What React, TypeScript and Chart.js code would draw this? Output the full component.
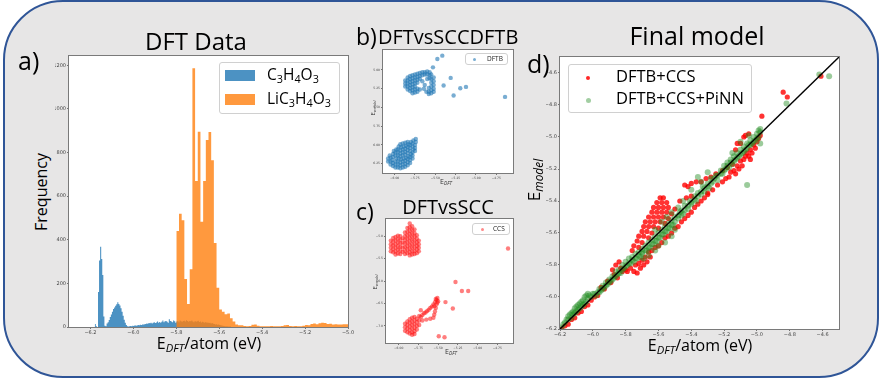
import React, { useEffect, useRef } from "react";
import { Chart, registerables } from "chart.js";
Chart.register(...registerables);

// ---------- DATA ----------
// Panel a: histograms (bin counts)
const blueStart = -6.18;
const blueWidth = 0.005;
const blueCounts = [
  0, 14, 4, 0, 160, 305, 368, 312, 238, 48, 6, 4, 16, 22, 32, 46, 57, 70, 82, 90, 97, 104, 114, 106, 99, 86, 70, 52, 33, 19, 9, 4, 2,
  3, 5, 4, 6, 5, 8, 6, 7, 9, 8, 10, 9, 12, 11, 13,
  14, 16, 15, 18, 17, 20, 16, 19, 22, 18, 21, 25, 20, 23, 19, 24, 30, 22, 26, 28, 24, 20, 36, 28, 25, 22, 30, 26, 20,
  25, 28, 22, 30, 26, 24, 27, 29, 25, 31, 27, 24, 28, 26, 30, 25, 22, 27, 24, 26, 29, 23, 25, 21, 24, 22, 20, 23, 19, 21,
  18, 20, 16, 18, 15, 14, 12, 13, 10, 11, 9, 8, 7, 6, 5, 4, 4, 3, 2, 2,
];
const orangeStart = -5.8;
const orangeWidth = 0.0125;
const orangeCounts = [
  440, 440, 520, 490, 220, 105, 265, 1187, 670, 896, 483, 670, 858, 894, 765, 385, 180, 80, 70, 58, 62, 40, 25, 12, 8,
  8, 5, 4, 5, 10, 12, 6, 4, 3, 4, 3, 5, 4, 3, 4, 5, 8, 9, 5, 4, 5, 3, 4, 6, 9, 8, 14, 16, 13, 17, 20, 18, 14, 15, 12, 13, 11, 12, 13,
];
const aXTicks = [-6.2, -6.0, -5.8, -5.6, -5.4, -5.2, -5.0];
const aYTicks = [0, 200, 400, 600, 800, 1000, 1200];

// Panel b: DFT vs SCC-DFTB
const bLow: number[][] = [
  [-6.08, -6.22], [-6.08, -6.18],
  [-6.05, -6.26], [-6.05, -6.22], [-6.05, -6.17], [-6.06, -6.14],
  [-6.02, -6.28], [-6.02, -6.24], [-6.03, -6.2], [-6.02, -6.16], [-6.02, -6.12], [-6.01, -6.08],
  [-5.99, -6.3], [-5.99, -6.26], [-5.99, -6.22], [-5.98, -6.18], [-5.99, -6.14], [-5.99, -6.1], [-5.98, -6.06],
  [-5.96, -6.3], [-5.96, -6.26], [-5.96, -6.22], [-5.95, -6.18], [-5.96, -6.14], [-5.96, -6.1], [-5.96, -6.06], [-5.95, -6.02],
  [-5.93, -6.31], [-5.93, -6.27], [-5.93, -6.23], [-5.92, -6.19], [-5.93, -6.15], [-5.93, -6.11], [-5.93, -6.07], [-5.92, -6.03], [-5.93, -5.99],
  [-5.9, -6.3], [-5.9, -6.26], [-5.9, -6.22], [-5.89, -6.18], [-5.9, -6.14], [-5.9, -6.1], [-5.9, -6.06], [-5.89, -6.02], [-5.9, -5.98],
  [-5.87, -6.29], [-5.87, -6.25], [-5.87, -6.21], [-5.86, -6.17], [-5.87, -6.13], [-5.87, -6.09], [-5.87, -6.05], [-5.86, -6.01], [-5.87, -5.97],
  [-5.84, -6.27], [-5.84, -6.23], [-5.84, -6.19], [-5.83, -6.15], [-5.84, -6.11], [-5.84, -6.07], [-5.84, -6.03], [-5.83, -5.99], [-5.84, -5.96],
  [-5.81, -6.24], [-5.81, -6.2], [-5.81, -6.16], [-5.8, -6.12], [-5.81, -6.08], [-5.81, -6.04], [-5.81, -6.0], [-5.8, -5.96],
  [-5.78, -6.18], [-5.78, -6.14], [-5.78, -6.1], [-5.77, -6.06], [-5.78, -6.02], [-5.78, -5.98], [-5.77, -5.94],
  [-5.75, -6.08], [-5.75, -6.04], [-5.75, -6.0], [-5.74, -5.96], [-5.74, -5.92],
];
const bHigh: number[][] = [
  [-5.87, -5.14], [-5.87, -5.18], [-5.87, -5.22],
  [-5.84, -5.1], [-5.84, -5.14], [-5.84, -5.18], [-5.84, -5.22], [-5.84, -5.26],
  [-5.81, -5.08], [-5.81, -5.12], [-5.81, -5.16], [-5.81, -5.2], [-5.81, -5.24], [-5.81, -5.28],
  [-5.78, -5.07], [-5.78, -5.11], [-5.78, -5.15], [-5.78, -5.19], [-5.78, -5.23], [-5.78, -5.27], [-5.78, -5.31],
  [-5.75, -5.06], [-5.75, -5.1], [-5.75, -5.14], [-5.75, -5.18], [-5.75, -5.22], [-5.75, -5.26], [-5.75, -5.3],
  [-5.72, -5.05], [-5.72, -5.09], [-5.72, -5.13], [-5.72, -5.17], [-5.72, -5.25], [-5.72, -5.29],
  [-5.69, -5.04], [-5.69, -5.08], [-5.69, -5.12], [-5.69, -5.26],
  [-5.66, -5.03], [-5.66, -5.07], [-5.63, -5.03], [-5.63, -5.06], [-5.6, -5.02], [-5.6, -5.06], [-5.57, -5.03], [-5.57, -5.07], [-5.57, -5.11],
  [-5.55, -5.06], [-5.55, -5.12], [-5.55, -5.17], [-5.55, -5.22], [-5.55, -5.27], [-5.55, -5.31],
  [-5.52, -5.1], [-5.52, -5.15], [-5.52, -5.2], [-5.52, -5.25], [-5.52, -5.29],
  [-5.58, -5.24], [-5.58, -5.29], [-5.58, -5.32],
  [-5.66, -5.15], [-5.63, -5.2], [-5.6, -5.12], [-5.64, -5.25], [-5.61, -5.29],
];
const bOutliers: number[][] = [
  [-5.475, -4.854], [-5.414, -4.809], [-5.529, -4.965], [-5.311, -5.106], [-5.398, -5.208],
  [-5.275, -5.341], [-5.193, -5.244], [-5.123, -5.226], [-4.643, -5.359],
];
const bXTicks = [-6.0, -5.75, -5.5, -5.25, -5.0, -4.75];
const bYTicks = [-6.25, -6.0, -5.75, -5.5, -5.25, -5.0];

// Panel c: DFT vs SCC (CCS)
const cHigh: number[][] = [
  [-6.1, -5.1], [-6.1, -5.18], [-6.1, -5.26], [-6.1, -5.34],
  [-6.07, -5.04], [-6.07, -5.12], [-6.07, -5.2], [-6.07, -5.28], [-6.07, -5.36],
  [-6.04, -5.02], [-6.04, -5.1], [-6.04, -5.18], [-6.04, -5.26], [-6.04, -5.34], [-6.04, -5.41],
  [-6.01, -4.99], [-6.01, -5.07], [-6.01, -5.15], [-6.01, -5.23], [-6.01, -5.31], [-6.01, -5.39],
  [-5.98, -5.0], [-5.98, -5.08], [-5.98, -5.16], [-5.98, -5.24], [-5.98, -5.32], [-5.98, -5.4],
  [-5.95, -5.05], [-5.95, -5.15], [-5.95, -5.25], [-5.95, -5.35],
  [-5.92, -4.92], [-5.92, -5.0], [-5.92, -5.08], [-5.92, -5.16], [-5.92, -5.24], [-5.92, -5.32], [-5.92, -5.4],
  [-5.89, -4.82], [-5.89, -4.9], [-5.89, -4.98], [-5.89, -5.06], [-5.89, -5.14], [-5.89, -5.22], [-5.89, -5.3], [-5.89, -5.38],
  [-5.86, -4.72], [-5.86, -4.8], [-5.86, -4.88], [-5.86, -4.96], [-5.86, -5.04], [-5.86, -5.12], [-5.86, -5.2], [-5.86, -5.28], [-5.86, -5.36], [-5.86, -5.43],
  [-5.83, -4.78], [-5.83, -4.86], [-5.83, -4.94], [-5.83, -5.02], [-5.83, -5.1], [-5.83, -5.18], [-5.83, -5.26], [-5.83, -5.34], [-5.83, -5.41],
  [-5.8, -4.85], [-5.8, -4.93], [-5.8, -5.01], [-5.8, -5.09], [-5.8, -5.17], [-5.8, -5.25], [-5.8, -5.33], [-5.8, -5.4],
  [-5.77, -4.98], [-5.77, -5.06], [-5.77, -5.14], [-5.77, -5.22], [-5.77, -5.3], [-5.77, -5.38],
  [-5.745, -5.1], [-5.745, -5.18], [-5.745, -5.26], [-5.745, -5.34],
];
const cLow: number[][] = [
  [-5.92, -6.95], [-5.92, -7.03], [-5.92, -7.11],
  [-5.89, -6.9], [-5.89, -6.98], [-5.89, -7.06], [-5.89, -7.14],
  [-5.86, -6.85], [-5.86, -6.93], [-5.86, -7.01], [-5.86, -7.09], [-5.86, -7.17],
  [-5.83, -6.82], [-5.83, -6.9], [-5.83, -6.98], [-5.83, -7.06], [-5.83, -7.14], [-5.83, -7.2],
  [-5.8, -6.8], [-5.8, -6.88], [-5.8, -6.96], [-5.8, -7.04], [-5.8, -7.12], [-5.8, -7.18],
  [-5.77, -6.84], [-5.77, -6.92], [-5.77, -7.0], [-5.77, -7.08],
  [-5.74, -6.78], [-5.74, -6.88], [-5.74, -6.98],
  [-5.72, -6.8], [-5.7, -6.76], [-5.68, -6.72], [-5.66, -6.7], [-5.64, -6.67], [-5.62, -6.64], [-5.6, -6.6],
  [-5.58, -6.57], [-5.56, -6.52], [-5.54, -6.47], [-5.52, -6.42], [-5.51, -6.38], [-5.5, -6.45], [-5.52, -6.52],
  [-5.53, -6.6], [-5.54, -6.68], [-5.55, -6.75], [-5.56, -6.82], [-5.6, -6.84], [-5.65, -6.86], [-5.7, -6.88],
  [-5.51, -6.48], [-5.53, -6.4], [-5.55, -6.56], [-5.72, -6.65],
];
const cOutliers: number[][] = [
  [-5.28, -6.022], [-5.199, -6.224], [-5.119, -6.224], [-5.407, -6.47], [-5.314, -6.612],
  [-5.492, -7.231], [-5.419, -7.254], [-4.614, -5.276],
];
const cXTicks = [-6.0, -5.75, -5.5, -5.25, -5.0, -4.75];
const cYTicks = [-7.0, -6.5, -6.0, -5.5, -5.0];

// Panel d: final model
const dRed: number[][] = [
  [-6.19, -6.2], [-6.17, -6.18], [-6.15, -6.17], [-6.13, -6.14], [-6.11, -6.13], [-6.09, -6.1], [-6.07, -6.09], [-6.05, -6.06], [-6.03, -6.05], [-6.01, -6.02],
  [-5.99, -6.0], [-5.97, -5.99], [-5.95, -5.94], [-5.93, -5.95], [-5.91, -5.9], [-5.89, -5.91], [-5.87, -5.86], [-5.85, -5.88], [-5.83, -5.82], [-5.82, -5.84], [-5.8, -5.83],
  [-5.88, -5.83], [-5.86, -5.8], [-5.84, -5.78],
  [-5.79, -5.84], [-5.77, -5.82], [-5.75, -5.84], [-5.74, -5.8], [-5.73, -5.85], [-5.72, -5.79], [-5.71, -5.82], [-5.7, -5.77], [-5.69, -5.8], [-5.68, -5.75], [-5.67, -5.78], [-5.66, -5.72], [-5.65, -5.75],
  [-5.59, -5.38], [-5.57, -5.38],
  [-5.61, -5.41], [-5.58, -5.41], [-5.55, -5.41],
  [-5.63, -5.44], [-5.6, -5.44], [-5.57, -5.44], [-5.54, -5.44], [-5.5, -5.45],
  [-5.64, -5.47], [-5.61, -5.47], [-5.58, -5.47], [-5.55, -5.47], [-5.52, -5.48],
  [-5.66, -5.5], [-5.63, -5.5], [-5.6, -5.5], [-5.57, -5.5], [-5.54, -5.51],
  [-5.68, -5.53], [-5.65, -5.53], [-5.62, -5.53], [-5.59, -5.53], [-5.56, -5.54],
  [-5.69, -5.56], [-5.66, -5.56], [-5.63, -5.56], [-5.6, -5.57],
  [-5.7, -5.59], [-5.67, -5.59], [-5.64, -5.6],
  [-5.72, -5.62], [-5.69, -5.62], [-5.66, -5.63],
  [-5.73, -5.65], [-5.7, -5.66],
  [-5.75, -5.68], [-5.72, -5.69], [-5.76, -5.71],
  [-5.47, -5.4], [-5.43, -5.38], [-5.4, -5.37],
  [-5.64, -5.71], [-5.62, -5.69], [-5.6, -5.68], [-5.58, -5.66], [-5.56, -5.63], [-5.54, -5.62], [-5.52, -5.6], [-5.5, -5.57], [-5.48, -5.56],
  [-5.46, -5.53], [-5.44, -5.51], [-5.42, -5.49], [-5.4, -5.47], [-5.38, -5.44], [-5.36, -5.42], [-5.34, -5.4], [-5.32, -5.38], [-5.3, -5.36],
  [-5.44, -5.3], [-5.42, -5.31], [-5.4, -5.29], [-5.37, -5.28], [-5.34, -5.28], [-5.31, -5.26], [-5.28, -5.25], [-5.25, -5.23], [-5.21, -5.21],
  [-5.18, -5.19], [-5.15, -5.17], [-5.13, -5.08], [-5.12, -5.04], [-5.1, -5.04], [-5.08, -5.0], [-5.07, -4.99], [-5.05, -4.98],
  [-5.3, -5.35], [-5.27, -5.33], [-5.24, -5.3], [-5.21, -5.28], [-5.19, -5.26], [-5.17, -5.25], [-5.16, -5.22], [-5.14, -5.21], [-5.12, -5.18],
  [-5.11, -5.2], [-5.1, -5.15], [-5.08, -5.14], [-5.07, -5.12], [-5.06, -5.1], [-5.05, -5.12], [-5.04, -5.08], [-5.03, -5.1], [-5.02, -5.05],
  [-5.01, -5.07], [-5.0, -5.03], [-4.99, -5.01], [-4.98, -4.99], [-5.13, -5.23], [-5.09, -5.18], [-5.04, -5.14],
  [-4.97, -4.87], [-4.84, -4.72], [-4.815, -4.75], [-4.61, -4.62],
];
const dGreen: number[][] = [
  [-6.19, -6.19], [-6.18, -6.17], [-6.17, -6.16], [-6.16, -6.14], [-6.15, -6.12], [-6.15, -6.14], [-6.14, -6.11], [-6.13, -6.1], [-6.13, -6.13],
  [-6.12, -6.09], [-6.12, -6.11], [-6.11, -6.07], [-6.11, -6.1], [-6.1, -6.06], [-6.1, -6.09], [-6.09, -6.05], [-6.09, -6.08], [-6.08, -6.04],
  [-6.08, -6.07], [-6.07, -6.03], [-6.07, -6.06], [-6.06, -6.02], [-6.06, -6.05], [-6.05, -6.0], [-6.05, -6.04], [-6.04, -5.99], [-6.04, -6.03],
  [-6.03, -5.98], [-6.03, -6.01], [-6.02, -5.99], [-6.01, -6.0], [-6.0, -5.98],
  [-5.99, -5.98], [-5.97, -5.97], [-5.96, -5.95], [-5.95, -5.96], [-5.94, -5.93], [-5.93, -5.94], [-5.92, -5.91], [-5.91, -5.92], [-5.9, -5.89],
  [-5.89, -5.9], [-5.88, -5.87], [-5.87, -5.88], [-5.86, -5.84], [-5.85, -5.86], [-5.84, -5.83], [-5.83, -5.85], [-5.82, -5.8], [-5.81, -5.82],
  [-5.8, -5.78], [-5.8, -5.81],
  [-5.79, -5.8], [-5.78, -5.76], [-5.77, -5.79], [-5.76, -5.75], [-5.75, -5.78], [-5.74, -5.73], [-5.73, -5.76], [-5.72, -5.72], [-5.71, -5.75],
  [-5.7, -5.7], [-5.7, -5.73], [-5.69, -5.76], [-5.68, -5.68], [-5.67, -5.71], [-5.66, -5.66], [-5.66, -5.74], [-5.65, -5.69], [-5.64, -5.64],
  [-5.63, -5.67], [-5.62, -5.71], [-5.62, -5.62], [-5.61, -5.65], [-5.6, -5.6], [-5.6, -5.68], [-5.59, -5.63], [-5.58, -5.58], [-5.57, -5.61],
  [-5.56, -5.66], [-5.56, -5.56], [-5.55, -5.59], [-5.54, -5.54], [-5.53, -5.57], [-5.52, -5.62], [-5.52, -5.52], [-5.51, -5.55], [-5.5, -5.5],
  [-5.5, -5.58], [-5.62, -5.58], [-5.58, -5.53], [-5.55, -5.5], [-5.52, -5.47], [-5.48, -5.44], [-5.45, -5.4], [-5.47, -5.47],
  [-5.48, -5.49], [-5.46, -5.46], [-5.45, -5.48], [-5.44, -5.43], [-5.42, -5.45], [-5.41, -5.4], [-5.4, -5.42], [-5.38, -5.37], [-5.37, -5.4],
  [-5.36, -5.35], [-5.34, -5.36], [-5.33, -5.31], [-5.32, -5.34], [-5.3, -5.29], [-5.29, -5.32], [-5.28, -5.26], [-5.27, -5.28], [-5.25, -5.24],
  [-5.24, -5.27], [-5.22, -5.21], [-5.21, -5.23], [-5.2, -5.18], [-5.34, -5.28], [-5.4, -5.33], [-5.36, -5.25], [-5.3, -5.22],
  [-5.19, -5.2], [-5.18, -5.16], [-5.17, -5.19], [-5.16, -5.14], [-5.15, -5.17], [-5.14, -5.12], [-5.13, -5.14], [-5.12, -5.1], [-5.11, -5.12],
  [-5.1, -5.08], [-5.09, -5.1], [-5.08, -5.06], [-5.07, -5.08], [-5.06, -5.04], [-5.05, -5.05], [-5.04, -5.02], [-5.03, -5.04], [-5.02, -5.0],
  [-5.01, -5.02], [-5.0, -4.98], [-4.99, -4.96], [-4.98, -4.97], [-4.99, -5.0], [-5.15, -5.1], [-5.1, -5.03], [-5.05, -4.99],
  [-5.98, -5.99], [-5.96, -5.97], [-5.94, -5.95], [-5.92, -5.93], [-5.9, -5.91], [-5.88, -5.89], [-5.86, -5.87], [-5.84, -5.85], [-5.82, -5.83],
  [-5.78, -5.79], [-5.76, -5.77], [-5.74, -5.76], [-5.72, -5.74], [-5.7, -5.72], [-5.68, -5.71], [-5.66, -5.69], [-5.64, -5.67], [-5.62, -5.65],
  [-5.6, -5.63], [-5.58, -5.61], [-5.56, -5.59], [-5.54, -5.57], [-5.52, -5.55], [-5.5, -5.53], [-5.48, -5.51], [-5.46, -5.49], [-5.44, -5.46],
  [-5.42, -5.43], [-5.4, -5.41], [-5.38, -5.39], [-5.36, -5.37], [-5.34, -5.34], [-5.32, -5.32], [-5.3, -5.31], [-5.28, -5.29], [-5.26, -5.26],
  [-5.24, -5.24], [-5.22, -5.23], [-5.2, -5.21], [-5.18, -5.18], [-5.16, -5.16], [-5.14, -5.15], [-5.12, -5.13], [-5.1, -5.11], [-5.08, -5.09],
  [-5.06, -5.07], [-5.04, -5.05], [-5.02, -5.03], [-5.0, -5.01],
  [-5.06, -5.3], [-4.98, -5.04], [-4.82, -4.79], [-4.62, -4.61], [-4.56, -4.62], [-4.98, -4.95],
];
const dDiagonal = [-6.2, -4.5];
const dTicks = [-6.2, -6.0, -5.8, -5.6, -5.4, -5.2, -5.0, -4.8, -4.6];

// ---------- HELPERS ----------
const FONT = "'Open Sans', 'Noto Sans', sans-serif";
const TICK_FONT = "'DejaVu Sans', sans-serif";

const fmt = (v: number, d: number) => (v < -1e-9 ? "\u2212" : "") + Math.abs(v).toFixed(d);

function histPoints(start: number, width: number, counts: number[]) {
  const pts = [{ x: start, y: 0 }];
  counts.forEach((c, i) => pts.push({ x: start + i * width, y: c }));
  const end = start + counts.length * width;
  pts.push({ x: end, y: counts[counts.length - 1] });
  pts.push({ x: end, y: 0 });
  return pts;
}
const toXY = (arr: number[][]) => arr.map(([x, y]) => ({ x, y }));

function axis(min: number, max: number, ticks: number[], dec: number, fit: number, horizontal: boolean, fs: number) {
  return {
    type: "linear",
    min,
    max,
    afterBuildTicks: (s: any) => {
      s.ticks = ticks.map((v) => ({ value: v }));
    },
    afterFit: (s: any) => {
      if (horizontal) s.height = fit;
      else s.width = fit;
    },
    ticks: {
      font: { family: TICK_FONT, size: fs },
      color: "#444",
      padding: 1,
      maxRotation: 0,
      autoSkip: false,
      callback: (v: any) => fmt(Number(v), dec),
    },
    grid: { drawOnChartArea: false, drawTicks: true, tickLength: 2, color: "#555", lineWidth: 0.8 },
    border: { display: false },
  };
}

const framePlugin = {
  id: "frame",
  beforeDraw(chart: any) {
    const { ctx, chartArea: a } = chart;
    ctx.save();
    ctx.fillStyle = "#ffffff";
    ctx.fillRect(a.left, a.top, a.right - a.left, a.bottom - a.top);
    ctx.restore();
  },
  afterDraw(chart: any) {
    const { ctx, chartArea: a } = chart;
    ctx.save();
    ctx.strokeStyle = "#7a7a7a";
    ctx.lineWidth = 1;
    ctx.strokeRect(Math.round(a.left) - 0.5, Math.round(a.top) - 0.5, Math.round(a.right - a.left) + 1, Math.round(a.bottom - a.top) + 1);
    ctx.restore();
  },
};

function baseOptions(pad: { top: number; right: number }) {
  return {
    responsive: false,
    animation: false,
    devicePixelRatio: 1,
    events: [],
    layout: { padding: { top: pad.top, right: pad.right, left: 0, bottom: 0 } },
    plugins: { legend: { display: false }, tooltip: { enabled: false } },
  };
}

function configA() {
  return {
    type: "line",
    data: {
      datasets: [
        {
          label: "LiC3H4O3",
          data: histPoints(orangeStart, orangeWidth, orangeCounts),
          stepped: "after",
          fill: "origin",
          backgroundColor: "rgba(255,127,14,0.8)",
          borderWidth: 0,
          pointRadius: 0,
          order: 0,
        },
        {
          label: "C3H4O3",
          data: histPoints(blueStart, blueWidth, blueCounts),
          stepped: "after",
          fill: "origin",
          backgroundColor: "rgba(31,119,180,0.8)",
          borderWidth: 0,
          pointRadius: 0,
          order: 1,
        },
      ],
    },
    options: {
      ...baseOptions({ top: 6, right: 8 }),
      scales: {
        x: axis(-6.3, -5.0, aXTicks, 1, 12, true, 5),
        y: axis(0, 1243, aYTicks, 0, 14, false, 5),
      },
    },
    plugins: [framePlugin],
  };
}

function configB() {
  return {
    type: "scatter",
    data: {
      datasets: [
        {
          label: "DFTB",
          data: toXY([...bLow, ...bHigh, ...bOutliers]),
          backgroundColor: "rgba(31,119,180,0.6)",
          borderWidth: 0,
          pointRadius: 2.2,
        },
      ],
    },
    options: {
      ...baseOptions({ top: 4, right: 6 }),
      scales: {
        x: axis(-6.143, -4.545, bXTicks, 2, 7, true, 3),
        y: axis(-6.374, -4.734, bYTicks, 2, 10, false, 3),
      },
    },
    plugins: [framePlugin],
  };
}

function configC() {
  return {
    type: "scatter",
    data: {
      datasets: [
        {
          label: "CCS",
          data: toXY([...cHigh, ...cLow, ...cOutliers]),
          backgroundColor: "rgba(255,20,20,0.55)",
          borderWidth: 0,
          pointRadius: 2.2,
        },
      ],
    },
    options: {
      ...baseOptions({ top: 4, right: 6 }),
      scales: {
        x: axis(-6.161, -4.551, cXTicks, 2, 7, true, 3),
        y: axis(-7.381, -4.619, cYTicks, 1, 10, false, 3),
      },
    },
    plugins: [framePlugin],
  };
}

function configD() {
  return {
    type: "scatter",
    data: {
      datasets: [
        {
          type: "line",
          label: "y=x",
          data: dDiagonal.map((v) => ({ x: v, y: v })),
          borderColor: "#000",
          borderWidth: 1.4,
          pointRadius: 0,
          fill: false,
          order: 0,
        },
        {
          label: "DFTB+CCS+PiNN",
          data: toXY(dGreen),
          backgroundColor: "rgba(34,139,34,0.45)",
          borderWidth: 0,
          pointRadius: 3,
          order: 1,
        },
        {
          label: "DFTB+CCS",
          data: toXY(dRed),
          backgroundColor: "rgba(255,0,0,0.8)",
          borderWidth: 0,
          pointRadius: 2.6,
          order: 2,
        },
      ],
    },
    options: {
      ...baseOptions({ top: 6, right: 8 }),
      scales: {
        x: axis(-6.2, -4.5, dTicks, 1, 12, true, 5),
        y: axis(-6.2, -4.5, dTicks, 1, 14, false, 5),
      },
    },
    plugins: [framePlugin],
  };
}

// ---------- COMPONENTS ----------
function ChartBox({ make, left, top, width, height }: { make: () => any; left: number; top: number; width: number; height: number }) {
  const ref = useRef<HTMLCanvasElement>(null);
  useEffect(() => {
    const chart = new Chart(ref.current as HTMLCanvasElement, make());
    return () => chart.destroy();
  }, []);
  return <canvas ref={ref} width={width} height={height} style={{ position: "absolute", left, top, width, height }} />;
}

function T({ x, y, size, children, anchor = "start", color = "#000" }: any) {
  return (
    <div
      style={{
        position: "absolute",
        left: x,
        top: y - 0.888 * size,
        fontSize: size,
        lineHeight: 1,
        height: size,
        whiteSpace: "nowrap",
        fontFamily: FONT,
        color,
        transform: anchor === "middle" ? "translateX(-50%)" : undefined,
      }}
    >
      {children}
    </div>
  );
}

function RT({ cx, cy, size, children, color = "#000" }: any) {
  return (
    <div
      style={{
        position: "absolute",
        left: cx,
        top: cy,
        fontSize: size,
        lineHeight: 1,
        height: size,
        whiteSpace: "nowrap",
        fontFamily: FONT,
        color,
        transform: "translate(-50%,-50%) rotate(-90deg)",
      }}
    >
      {children}
    </div>
  );
}

function Sub({ children, italic = false }: any) {
  return <span style={{ fontSize: "0.7em", verticalAlign: "-0.3em", fontStyle: italic ? "italic" : "normal" }}>{children}</span>;
}

function Box({ left, top, width, height, bw = 1 }: any) {
  return (
    <div
      style={{
        position: "absolute",
        left,
        top,
        width,
        height,
        boxSizing: "border-box",
        background: "rgba(255,255,255,0.85)",
        border: `${bw}px solid #d0d0d0`,
        borderRadius: 3,
      }}
    />
  );
}

function Dot({ cx, cy, r, color }: any) {
  return <div style={{ position: "absolute", left: cx - r, top: cy - r, width: 2 * r, height: 2 * r, borderRadius: "50%", background: color }} />;
}

export default function App() {
  return (
    <div style={{ position: "absolute", left: 0, top: 0, width: 881, height: 380, overflow: "hidden", background: "#fff" }}>
      <div
        style={{
          position: "absolute",
          left: 3,
          top: 0,
          width: 876,
          height: 378,
          boxSizing: "border-box",
          border: "2px solid #2f5597",
          borderRadius: 60,
          background: "#e7e6e6",
        }}
      />
      <ChartBox make={configA} left={55} top={50} width={301} height={289} />
      <ChartBox make={configB} left={373} top={46} width={146} height={134} />
      <ChartBox make={configC} left={376} top={215} width={143} height={135} />
      <ChartBox make={configD} left={546} top={51} width={301} height={290} />

      {/* Panel a texts */}
      <T x={196} y={50} size={24} anchor="middle">DFT Data</T>
      <T x={18} y={70} size={25}>a)</T>
      <RT cx={41} cy={192} size={16}>Frequency</RT>
      <T x={209} y={349} size={16} anchor="middle">
        E<Sub italic>DFT</Sub>/atom (eV)
      </T>
      <Box left={219} top={62} width={121} height={52} />
      <div style={{ position: "absolute", left: 225, top: 70, width: 30, height: 11, background: "rgba(31,119,180,0.8)" }} />
      <div style={{ position: "absolute", left: 225, top: 94, width: 30, height: 11, background: "rgba(255,127,14,0.8)" }} />
      <T x={267} y={81} size={15.5}>
        C<Sub>3</Sub>H<Sub>4</Sub>O<Sub>3</Sub>
      </T>
      <T x={267} y={105} size={15.5}>
        LiC<Sub>3</Sub>H<Sub>4</Sub>O<Sub>3</Sub>
      </T>

      {/* Panel b texts */}
      <T x={356} y={45} size={23}>b)</T>
      <T x={378} y={45} size={20}>DFTvsSCCDFTB</T>
      <Box left={465} top={53} width={43} height={12} bw={0.5} />
      <Dot cx={474} cy={59} r={1.5} color="rgba(31,119,180,0.6)" />
      <T x={487} y={62} size={6.5} color="#222">DFTB</T>
      <T x={446} y={184} size={7} anchor="middle" color="#333">
        E<Sub italic>DFT</Sub>
      </T>
      <RT cx={373} cy={108} size={6} color="#333">
        E<Sub italic>model</Sub>
      </RT>

      {/* Panel c texts */}
      <T x={356} y={220} size={23}>c)</T>
      <T x={448} y={215} size={20} anchor="middle">DFTvsSCC</T>
      <Box left={472} top={223} width={38} height={12} bw={0.5} />
      <Dot cx={482} cy={229} r={1.5} color="rgba(255,20,20,0.5)" />
      <T x={493} y={232} size={6.5} color="#222">CCS</T>
      <T x={451} y={354} size={7} anchor="middle" color="#333">
        E<Sub italic>DFT</Sub>
      </T>
      <RT cx={375} cy={282} size={6} color="#333">
        E<Sub italic>model</Sub>
      </RT>

      {/* Panel d texts */}
      <T x={697} y={45} size={25} anchor="middle">Final model</T>
      <T x={527} y={73} size={25}>d)</T>
      <RT cx={533} cy={180} size={17}>
        E<Sub italic>model</Sub>
      </RT>
      <T x={700} y={351} size={16} anchor="middle">
        E<Sub italic>DFT</Sub>/atom (eV)
      </T>
      <Box left={568} top={64} width={184} height={49} />
      <Dot cx={588} cy={78} r={2.3} color="rgba(255,0,0,0.85)" />
      <Dot cx={588} cy={100} r={2.5} color="rgba(34,139,34,0.42)" />
      <T x={616} y={83} size={16.5}>DFTB+CCS</T>
      <T x={616} y={105} size={16.5}>DFTB+CCS+PiNN</T>
    </div>
  );
}
